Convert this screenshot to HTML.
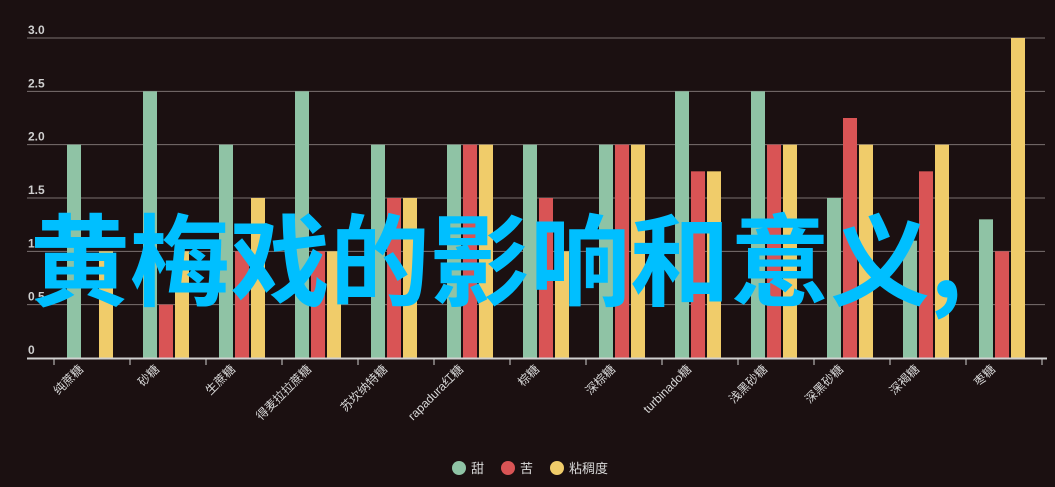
<!DOCTYPE html>
<html><head><meta charset="utf-8"><style>
body{margin:0;background:#1b1011;}
svg{display:block;font-family:"Liberation Sans","Noto Sans CJK SC",sans-serif;}
</style></head><body>
<svg id="c" width="1055" height="487">
<rect width="1055" height="487" fill="#1b1011"/>
<g id="grid"></g><g id="bars"></g><g id="xaxis"></g>
<g id="legend"></g>
<text x="30" y="298" font-size="100" fill="#00bfff" font-family="'Noto Sans CJK SC',sans-serif" font-weight="bold">黄梅戏的影响和意义,</text>
</svg>
<script>
const categories=["纯蔗糖","砂糖","生蔗糖","得麦拉拉蔗糖","苏坎纳特糖","rapadura红糖","棕糖","深棕糖","turbinado糖","浅黑砂糖","深黑砂糖","深褐糖","枣糖"];
const sweet=[2,2.5,2,2.5,2,2,2,2,2.5,2.5,1.5,1.1,1.3];
const bitter=[0,0.5,1,1,1.5,2,1.5,2,1.75,2,2.25,1.75,1];
const thick=[1,1,1.5,1,1.5,2,1,2,1.75,2,2,2,3];
const yTicks=[0,0.5,1,1.5,2,2.5,3];
const yTickLabels=["0","0.5","1.0","1.5","2.0","2.5","3.0"];
const seriesNames=["甜","苦","粘稠度"];
const colors=["#8fc3a5","#d95455","#f0cc6a"];
const NS="http://www.w3.org/2000/svg";
const y=v=>358-v*106.67;
const xc=i=>90+i*76;
function mk(t,a,p){const e=document.createElementNS(NS,t);for(const k in a)e.setAttribute(k,a[k]);p.appendChild(e);return e;}
const grid=document.getElementById('grid');
yTicks.forEach((t,i)=>{
 if(i>0){const l=mk('line',{x1:27,x2:1045,y1:y(t),y2:y(t),stroke:'#7a7070','stroke-width':1},grid);
 
 }
 const tx=mk('text',{x:28,y:y(t)-4,fill:'#cfcfcf','font-size':12,'font-weight':'bold'},grid);
 tx.textContent=yTickLabels[i];
 
 
});
const bars=document.getElementById('bars');
[sweet,bitter,thick].forEach((s,j)=>{
 s.forEach((v,i)=>{
  if(v<=0)return;
  const r=mk('rect',{x:xc(i)-23+j*16,y:y(v),width:14,height:358-y(v),fill:colors[j]},bars);
  
  
 });
});
const xa=document.getElementById('xaxis');
const ax=mk('line',{x1:27,x2:1047,y1:358.5,y2:358.5,stroke:'#d0d0d0','stroke-width':2},xa);


for(let i=0;i<=13;i++){
 const t=mk('line',{x1:54+i*76,x2:54+i*76,y1:359,y2:365,stroke:'#d0d0d0'},xa);
 
 
}
categories.forEach((c,i)=>{
 const x=xc(i)-6,yy=370;
 const t=mk('text',{x:x,y:yy,fill:'#d8d8d8','font-size':12,'text-anchor':'end',transform:`rotate(-45 ${x} ${yy})`},xa);
 t.textContent=c;
 
 
});
const lg=document.getElementById('legend');
const lx=[459,508,557];
seriesNames.forEach((n,j)=>{
 const c=mk('circle',{cx:lx[j],cy:468,r:7,fill:colors[j]},lg);
 
 
 const t=mk('text',{x:lx[j]+12,y:473,fill:'#d8d8d8','font-size':13},lg);
 t.textContent=n;
 
 
});
</script>
</body></html>
